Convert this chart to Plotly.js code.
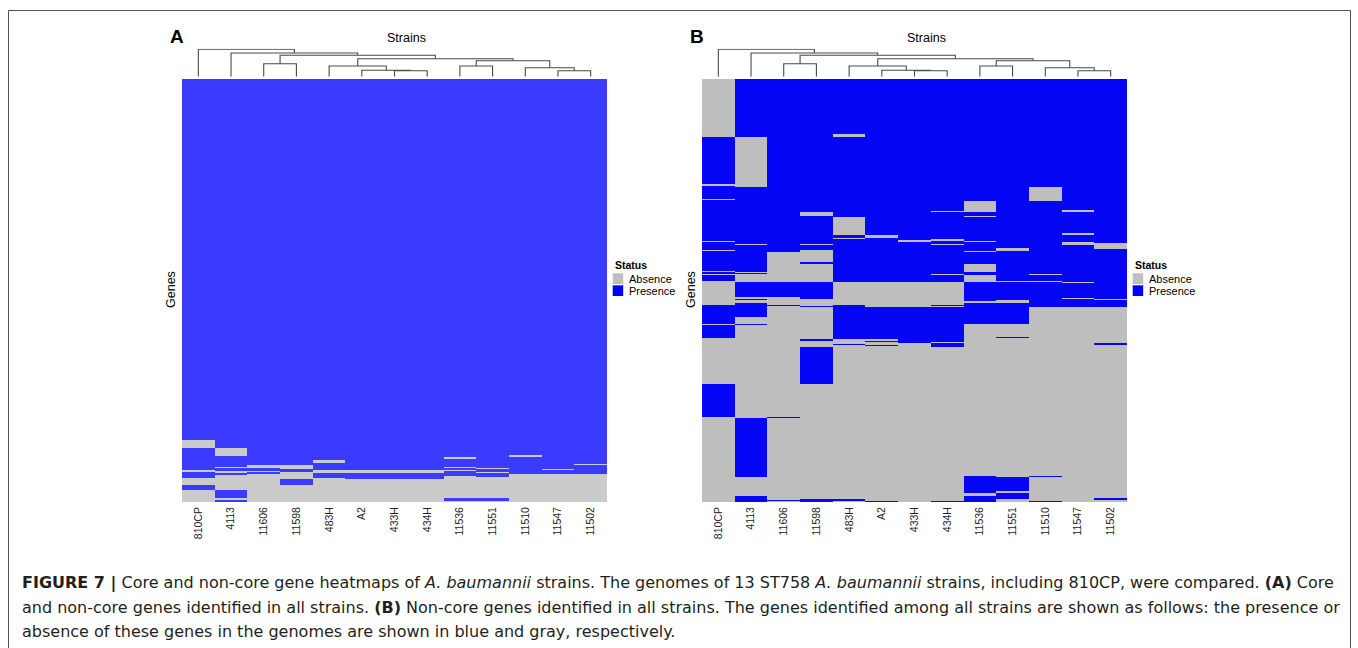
<!DOCTYPE html>
<html><head><meta charset="utf-8">
<script src="https://cdn.plot.ly/plotly-3.0.1.min.js"></script>
<style>html,body{margin:0;padding:0;background:#fff}#chart{width:1358px;height:648px}</style>
</head><body><div id="chart"></div>
<script>
// ---------- data ----------
const strains = ['810CP','4113','11606','11598','483H','A2','433H','434H','11536','11551','11510','11547','11502'];
const geneRowsA = 423;   // gene rows (ordered) in panel A
const geneRowsB = 423;   // gene rows (ordered) in panel B
// absence intervals [fromRow, toRow] per strain, panel A (core + non-core genes)
const absenceA = [
  [[360.5,368.5],[390.5,393],[398.5,405.5],[410.5,423]],
  [[368.5,376.5],[388,389],[392,393.5],[395.5,410.5],[419,421.3]],
  [[385.5,389],[391.5,393],[394.5,423]],
  [[385.5,389.5],[393,399.5],[405.5,423]],
  [[380.5,383.5],[390.5,393.5],[399,423]],
  [[390.5,393.5],[399.5,423]],
  [[391,393.5],[400,423]],
  [[391,393.5],[400,423]],
  [[378,380],[387.5,389],[390.5,391.5],[397,418.7],[422.3,423]],
  [[388.5,389.5],[392.5,394],[397.5,418.7],[422.3,423]],
  [[376,378],[394.5,423]],
  [[390,391],[394.5,423]],
  [[385,386],[394.5,423]]
];
// absence intervals per strain, panel B (non-core genes)
const absenceB = [
  [[0,57.7],[105,107],[120,121.3],[161.5,162.5],[170.5,171.5],[192.3,193.3],[194.5,196],[201.8,226],[244.8,246.3],[258.7,305.3],[337.7,423]],
  [[57.7,107.7],[165,166.3],[192.7,193.7],[195.3,203.3],[218.3,219.7],[221,224.3],[237.7,245],[246,339.3],[397.7,417]],
  [[172.7,203.3],[218.3,226],[227.3,337.7],[339.3,420.5],[421.5,423]],
  [[132.7,137.3],[165.3,166.3],[171,183.3],[184.7,203.3],[220,227],[228,260],[261.7,267.7],[305.3,420.3]],
  [[55,57.7],[137.7,156],[158.7,160],[203.3,226],[260,264.5],[265.7,420.3],[421.7,423]],
  [[156,159.3],[203.3,228.3],[260,262],[263.3,265.7],[266.7,421.7]],
  [[161,163],[203.3,228.3],[264.3,423]],
  [[132,133.3],[159.7,161.7],[165,166.3],[195.3,196.3],[203.3,226],[227,228.3],[262.7,264.3],[267.7,421.7]],
  [[121.7,132.7],[136.7,138],[162,163],[172,173],[185.3,192.7],[196,203.3],[222,224.3],[245.3,397],[413.7,417]],
  [[169.3,172],[201.7,203.3],[221,223.7],[245.3,257.7],[258.7,398.3],[412,414.3],[420.3,423]],
  [[108.3,121.7],[195,196],[201.7,203],[228.3,397],[398.3,421.7]],
  [[131,132.7],[154.3,156],[162.7,166],[202.7,203.7],[218.7,220.3],[228.3,423]],
  [[164.3,170.3],[220,221],[228.3,264.3],[265.7,419.3],[421,423]]
];
// strain clustering: [childA, childB, height]; leaves 0..12, merged nodes numbered 13+
const linkage = [[6,7,6],[11,12,6],[5,13,6.4],[10,14,9],[4,15,10.7],[8,9,10.7],[2,3,13],[18,16,16],[17,20,18],[19,21,21.4],[1,22,23.7],[0,23,27.4]];
const statusLabels = ['Absence','Presence'];

// ---------- build ----------
const W = 1358, H = 648;
const px = x => x / W, py = y => 1 - y / H;

function buildGrid(abs, total) {
  const s = new Set([0, total]);
  abs.forEach(col => col.forEach(([a,b]) => { s.add(a); s.add(b); }));
  const edges = [...s].sort((a,b) => a - b);
  const z = [];
  for (let i = 0; i < edges.length - 1; i++) {
    const m = (edges[i] + edges[i+1]) / 2;
    z.push(abs.map(col => col.some(([a,b]) => m > a && m < b) ? 0 : 1));
  }
  return {edges, z};
}
const xEdges = strains.map((_, i) => i - 0.5).concat([strains.length - 0.5]);

function dendro(xa, ya) {
  const pos = strains.map((_, i) => ({x: i, h: 0}));
  const X = [], Y = [];
  linkage.forEach(([a, b, h]) => {
    const A = pos[a], B = pos[b];
    X.push(A.x, A.x, B.x, B.x, null);
    Y.push(A.h, h, h, B.h, null);
    pos.push({x: (A.x + B.x) / 2, h});
  });
  return {type: 'scatter', mode: 'lines', x: X, y: Y, xaxis: xa, yaxis: ya,
          line: {color: '#4a4a4a', width: 1.1}, hoverinfo: 'skip', showlegend: false};
}

const gA = buildGrid(absenceA, geneRowsA), gB = buildGrid(absenceB, geneRowsB);
const heat = (g, xa, ya, gray, blue) => ({type: 'heatmap', x: xEdges, y: g.edges, z: g.z, xaxis: xa, yaxis: ya,
  zmin: 0, zmax: 1, zsmooth: false, showscale: false, hoverinfo: 'skip',
  colorscale: [[0, gray], [0.5, gray], [0.5, blue], [1, blue]]});

const data = [
  heat(gA, 'x', 'y', '#cbcbcb', '#3b3bff'),
  heat(gB, 'x2', 'y2', '#bebebe', '#0606f6'),
  dendro('x3', 'y3'),
  dendro('x4', 'y4')
];

const tickFont = {family: 'Liberation Sans, Arial, sans-serif', size: 10.5, color: '#222'};
const hx = (l, r, extra) => Object.assign({domain: [px(l), px(r)], range: [-0.5, 12.5], showgrid: false, zeroline: false,
  showline: false, fixedrange: true}, extra);
const heatY = rows => ({domain: [py(502), py(79)], range: [rows, 0], showgrid: false, zeroline: false, showline: false,
  showticklabels: false, ticks: '', fixedrange: true});
const dendY = {domain: [py(76.7), py(48.7)], range: [0, 28], showgrid: false, zeroline: false, showline: false,
  showticklabels: false, ticks: '', fixedrange: true};
const xTicks = {tickmode: 'array', tickvals: strains.map((_, i) => i), ticktext: strains, tickangle: -90,
  ticks: '', tickfont: tickFont, ticklabelstandoff: 2};

const f = {family: 'Liberation Sans, Arial, sans-serif', color: '#000'};
const ann = [];
const shapes = [];
[[0, 'A'], [520, 'B']].forEach(([o, L]) => {
  ann.push({text: '<b>' + L + '</b>', x: px(177 + o), y: py(36), font: Object.assign({}, f, {size: 19})});
  ann.push({text: 'Strains', x: px(406 + o), y: py(38.5), font: Object.assign({}, f, {size: 12.5})});
  ann.push({text: 'Genes', x: px(171 + o), y: py(290), textangle: -90, font: Object.assign({}, f, {size: 12.5})});
  ann.push({text: '<b>Status</b>', x: px(612.5 + o), y: py(265), xanchor: 'left', font: Object.assign({}, f, {size: 10.5})});
  ann.push({text: statusLabels[0], x: px(626.5 + o), y: py(279), xanchor: 'left', font: Object.assign({}, f, {size: 11})});
  ann.push({text: statusLabels[1], x: px(626.5 + o), y: py(291), xanchor: 'left', font: Object.assign({}, f, {size: 11})});
  shapes.push({type: 'rect', xref: 'paper', yref: 'paper', x0: px(612.7 + o), x1: px(623.2 + o), y0: py(284), y1: py(273.3),
    fillcolor: '#bebebe', line: {width: 0}});
  shapes.push({type: 'rect', xref: 'paper', yref: 'paper', x0: px(612.7 + o), x1: px(623.2 + o), y0: py(296), y1: py(285.3),
    fillcolor: '#0000ff', line: {width: 0}});
});
shapes.push({type: 'rect', xref: 'paper', yref: 'paper', x0: px(8.5), x1: px(1350.5), y0: py(660), y1: py(10.5),
  line: {color: '#555', width: 1}, fillcolor: 'rgba(0,0,0,0)'});

const capFont = {family: 'DejaVu Sans, sans-serif', size: 16, color: '#231f20'};
const caption = [
  '<b>FIGURE 7 |</b> Core and non-core gene heatmaps of <i>A. baumannii</i> strains. The genomes of 13 ST758 <i>A. baumannii</i> strains, including 810CP, were compared. <b>(A)</b> Core',
  'and non-core genes identified in all strains. <b>(B)</b> Non-core genes identified in all strains. The genes identified among all strains are shown as follows: the presence or',
  'absence of these genes in the genomes are shown in blue and gray, respectively.'
];
caption.forEach((t, i) => ann.push({text: t, x: px(20), y: py(583 + 24 * i), xanchor: 'left', font: capFont}));
ann.forEach(a => { a.xref = 'paper'; a.yref = 'paper'; a.showarrow = false; if (!a.xanchor) a.xanchor = 'center'; a.yanchor = 'middle'; });

const layout = {
  width: W, height: H, margin: {l: 0, r: 0, t: 0, b: 0}, paper_bgcolor: '#fff', plot_bgcolor: '#fff',
  showlegend: false,
  xaxis: hx(182, 607, xTicks), yaxis: heatY(geneRowsA),
  xaxis2: hx(702, 1127, xTicks), yaxis2: heatY(geneRowsB),
  xaxis3: hx(182, 607, {showticklabels: false, ticks: ''}), yaxis3: Object.assign({}, dendY),
  xaxis4: hx(702, 1127, {showticklabels: false, ticks: ''}), yaxis4: Object.assign({}, dendY),
  annotations: ann, shapes: shapes
};
Plotly.newPlot('chart', data, layout, {displayModeBar: false, staticPlot: true});
</script></body></html>
